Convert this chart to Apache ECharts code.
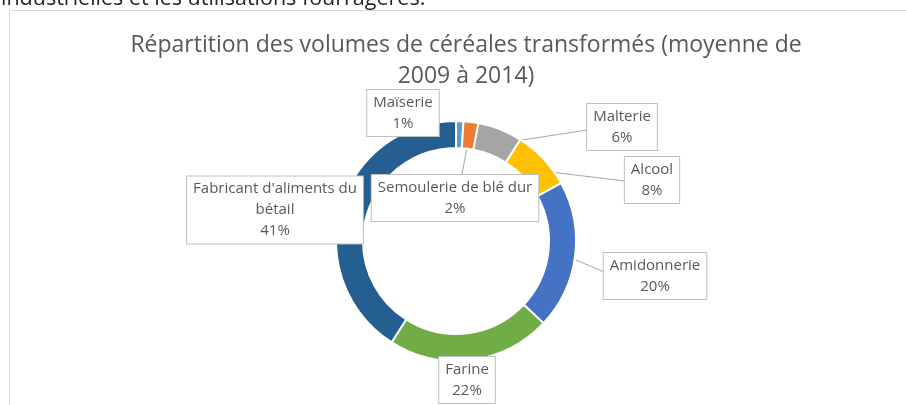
<!DOCTYPE html>
<html>
<head>
<meta charset="utf-8">
<script src="https://cdn.jsdelivr.net/npm/echarts@6/dist/echarts.min.js"></script>
<style>
html,body{margin:0;padding:0;background:#fff;}
#chart{width:906px;height:405px;}
</style>
</head>
<body>
<div id="chart"></div>
<script>
// ---- Data ----
var categories = ["Maïserie", "Semoulerie de blé dur", "Malterie", "Alcool", "Amidonnerie", "Farine", "Fabricant d'aliments du bétail"];
var values = [1, 2, 6, 8, 20, 22, 41];
var colors = ["#5B9BD5", "#ED7D31", "#A5A5A5", "#FFC000", "#4472C4", "#70AD47", "#255E91"];
var titleText = "Répartition des volumes de céréales transformés (moyenne de\n2009 à 2014)";
var topText = "industrielles et les utilisations fourragères.";

// ---- Layout (positions, not data) ----
var CX = 456, CY = 241, R_IN = 93, R_OUT = 120;
var labelPos = [
  {x: 403, y: 113, end: [438, 124], r: 98},
  {x: 455, y: 198, end: [462, 174], r: 108},
  {x: 622, y: 127, end: [587, 130], r: 104},
  {x: 652, y: 180, end: [625, 181], r: 104},
  {x: 655, y: 276, end: [604, 272], r: 108},
  {x: 467, y: 380, end: [467, 357], r: 112},
  {x: 275, y: 210, end: null, r: 106}
];

var total = values.reduce(function(a, b){ return a + b; }, 0);
function midAngle(i){
  var c = 0;
  for (var k = 0; k < i; k++) c += values[k];
  return (c + values[i] / 2) / total * 2 * Math.PI;
}

var chart = echarts.init(document.getElementById('chart'), null, {renderer: 'canvas'});
var font = "'Open Sans', 'Noto Sans', sans-serif";

var seriesData = categories.map(function(n, i){
  return {name: n, value: values[i], itemStyle: {color: colors[i]},
          labelLine: {show: labelPos[i].end !== null}};
});

chart.setOption({
  animation: false,
  backgroundColor: '#fff',
  title: {
    text: titleText,
    left: 461,
    top: 25,
    textAlign: 'center',
    textStyle: {fontFamily: font, fontSize: 23, fontWeight: 'normal', color: '#595959', lineHeight: 31}
  },
  graphic: [
    {type: 'rect', shape: {x: 9.5, y: 10.5, width: 1000, height: 500},
     style: {fill: 'none', stroke: '#D9D9D9', lineWidth: 1}, silent: true, z: 0},
    {type: 'text', x: 1, y: -1.5,
     style: {text: topText, font: "21.5px 'Open Sans', sans-serif", fill: '#262626', verticalAlign: 'middle'}, z: 0}
  ],
  series: [{
    type: 'pie',
    center: [CX, CY],
    radius: [R_IN, R_OUT],
    startAngle: 90,
    clockwise: true,
    avoidLabelOverlap: false,
    itemStyle: {borderColor: '#fff', borderWidth: 2},
    emphasis: {disabled: true},
    data: seriesData,
    label: {
      show: true,
      position: 'outside',
      formatter: function(p){
        return p.name.replace(' du ', ' du\n') + '\n' + p.percent + '%';
      },
      fontFamily: font,
      fontSize: 15,
      color: '#595959',
      lineHeight: 21,
      align: 'center',
      backgroundColor: '#fff',
      borderColor: '#BFBFBF',
      borderWidth: 1,
      padding: [2, 6, 2, 6]
    },
    labelLine: {show: true, lineStyle: {color: '#A6A6A6', width: 1}},
    labelLayout: function(params){
      var i = params.dataIndex;
      var lp = labelPos[i];
      var a = midAngle(i);
      var ax = CX + lp.r * Math.sin(a), ay = CY - lp.r * Math.cos(a);
      var res = {x: lp.x, y: lp.y, align: 'center', verticalAlign: 'middle'};
      if (lp.end) {
        res.labelLinePoints = [[ax, ay], [(ax + lp.end[0]) / 2, (ay + lp.end[1]) / 2], lp.end];
      }
      return res;
    }
  }]
});
</script>
</body>
</html>
